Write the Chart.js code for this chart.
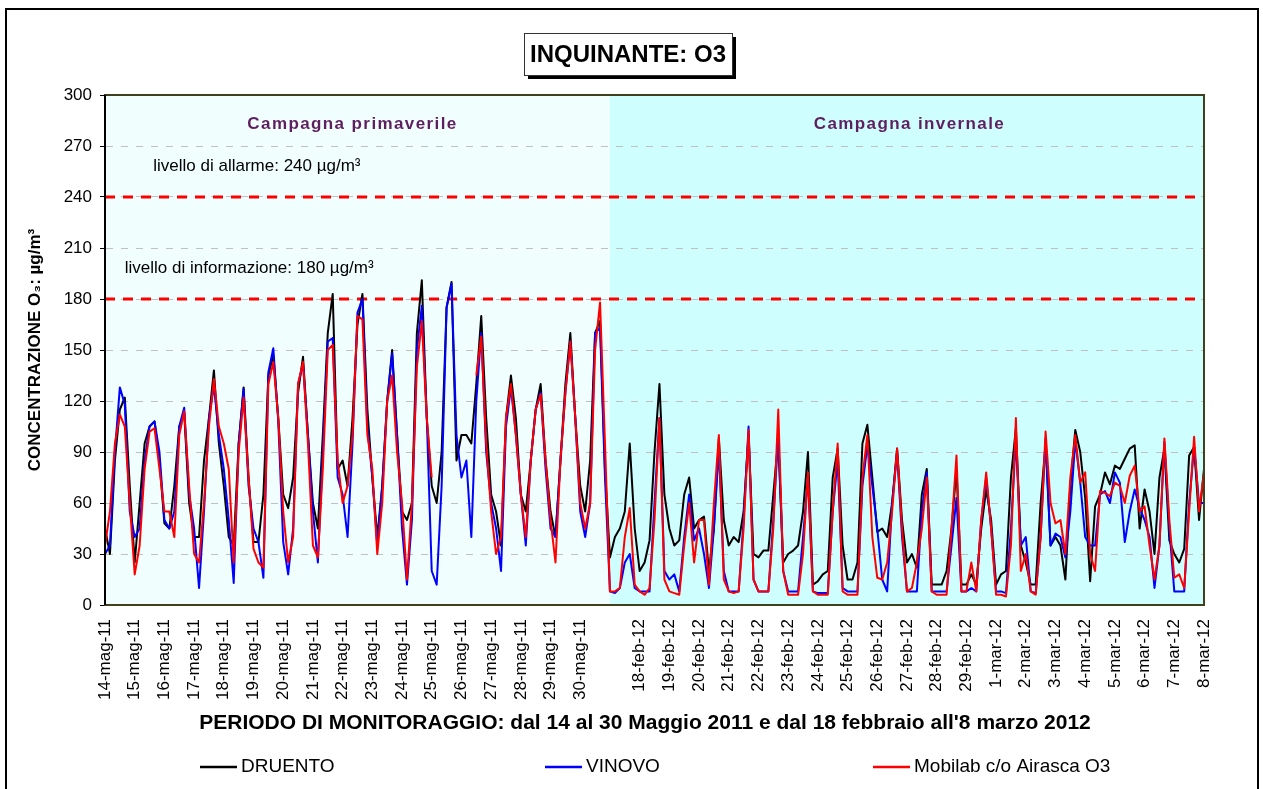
<!DOCTYPE html>
<html>
<head>
<meta charset="utf-8">
<title>INQUINANTE: O3</title>
<script src="https://cdn.jsdelivr.net/npm/chart.js@4.4.0/dist/chart.umd.min.js"></script>
<style>
  html, body { margin: 0; padding: 0; background: #ffffff; }
  #wrap { width: 1263px; height: 789px; }
</style>
</head>
<body>
<div id="wrap"><canvas id="o3Chart" width="1263" height="789"></canvas></div>
<script>
//  Hourly series read every 4 h (00, 04, 08, 12, 16, 20) of each day.
//  Spring campaign: 14..30 May 2011 (17 days), winter campaign: 17 Feb..8 Mar 2012.
const STEP_H         = 4;
const WINTER_START_H = 408;   // 17-feb-12 00:00 follows straight after 30-mag-11
const AXIS_END_H     = 888;   // 8-mar-12 00:00

const mayLabels = [
  '14-mag-11', '15-mag-11', '16-mag-11', '17-mag-11', '18-mag-11', '19-mag-11',
  '20-mag-11', '21-mag-11', '22-mag-11', '23-mag-11', '24-mag-11', '25-mag-11',
  '26-mag-11', '27-mag-11', '28-mag-11', '29-mag-11', '30-mag-11'
];
const winterLabels = [
  '18-feb-12', '19-feb-12', '20-feb-12', '21-feb-12', '22-feb-12', '23-feb-12',
  '24-feb-12', '25-feb-12', '26-feb-12', '27-feb-12', '28-feb-12', '29-feb-12',
  '1-mar-12', '2-mar-12', '3-mar-12', '4-mar-12', '5-mar-12', '6-mar-12',
  '7-mar-12', '8-mar-12'
];

const druento = [
  45, 30, 85, 115, 122, 70,     // 14 mag
  25, 60, 95, 105, 108, 85,
  48, 45, 70, 105, 113, 60,
  40, 40, 85, 110, 138, 95,
  70, 40, 35, 95, 128, 75,
  37, 37, 65, 135, 147, 110,
  65, 57, 75, 125, 146, 100,    // 20 mag
  60, 45, 100, 160, 183, 80,
  85, 70, 110, 165, 183, 115,
  75, 40, 70, 120, 150, 100,
  55, 50, 60, 160, 191, 110,
  70, 60, 90, 175, 190, 85,
  100, 100, 95, 130, 170, 110,  // 26 mag
  65, 55, 35, 110, 135, 110,
  65, 55, 85, 115, 130, 85,
  55, 40, 85, 130, 160, 110,
  70, 55, 85, 160, 167, 80,     // 30 mag
  28, 40, 45, 55, 95, 45,       // 17 feb
  20, 25, 38, 90, 130, 65,
  45, 35, 38, 65, 75, 45,
  50, 52, 20, 45, 98, 50,
  35, 40, 37, 55, 100, 30,
  28, 32, 32, 65, 98, 25,
  30, 32, 35, 55, 90, 12,
  14, 18, 20, 75, 92, 35,
  15, 15, 25, 95, 106, 75,      // 25 feb
  43, 45, 40, 60, 92, 50,
  25, 30, 22, 65, 80, 12,
  12, 12, 20, 45, 80, 12,
  12, 18, 12, 45, 68, 50,
  12, 18, 20, 75, 104, 35,      // 1 mar
  25, 12, 12, 60, 95, 35,
  40, 35, 15, 70, 103, 90,
  63, 14, 58, 65, 78, 71,
  82, 80, 86, 92, 94, 45,
  68, 55, 30, 75, 92, 38,
  30, 25, 33, 88, 93, 50,       // 7 mar
  80
];

const vinovo = [
  30, 35, 90, 128, 118, 55,     // 14 mag
  40, 45, 85, 105, 108, 90,
  50, 45, 55, 105, 116, 65,
  45, 10, 55, 110, 129, 100,
  80, 50, 13, 95, 127, 70,
  45, 37, 16, 137, 151, 108,
  37, 18, 45, 130, 142, 100,    // 20 mag
  55, 25, 90, 155, 157, 75,
  65, 40, 95, 172, 180, 105,
  75, 35, 70, 120, 148, 100,
  45, 12, 50, 150, 176, 110,
  20, 12, 70, 175, 189, 100,
  75, 85, 40, 120, 160, 90,     // 26 mag
  60, 45, 20, 105, 128, 100,
  65, 35, 85, 115, 125, 80,
  45, 40, 85, 125, 155, 110,
  55, 40, 60, 160, 163, 75,     // 30 mag
  8, 7, 10, 25, 30, 10,         // 17 feb
  8, 8, 8, 60, 110, 20,
  15, 18, 8, 40, 65, 38,
  45, 30, 10, 45, 92, 20,
  8, 8, 8, 50, 105, 15,
  8, 8, 8, 50, 100, 20,
  8, 8, 8, 40, 75, 8,
  7, 7, 7, 55, 85, 10,
  8, 8, 8, 70, 94, 70,          // 25 feb
  45, 15, 8, 60, 90, 40,
  8, 8, 8, 55, 78, 8,
  8, 8, 8, 35, 63, 8,
  8, 10, 8, 50, 75, 45,
  8, 8, 7, 45, 98, 35,          // 1 mar
  40, 8, 7, 40, 98, 35,
  42, 40, 28, 55, 97, 72,
  40, 35, 35, 65, 67, 60,
  78, 72, 37, 55, 68, 57,
  50, 40, 10, 35, 96, 45,
  8, 8, 8, 60, 93, 60,          // 7 mar
  60
];

const mobilab = [
  35, 55, 95, 112, 105, 60,     // 14 mag
  18, 35, 80, 102, 104, 80,
  55, 55, 40, 100, 114, 70,
  30, 25, 60, 105, 133, 105,
  95, 80, 25, 90, 122, 75,
  33, 25, 22, 130, 143, 110,
  55, 25, 40, 130, 143, 95,     // 20 mag
  35, 28, 80, 150, 153, 85,
  60, 70, 100, 170, 168, 100,
  80, 30, 60, 120, 135, 90,
  60, 15, 60, 140, 167, 110,
  75, null, null, null, null, null,
  null, null, null, 135, 158, 95, // 26 mag
  55, 30, 40, 110, 130, 100,
  65, 40, 85, 115, 124, 85,
  50, 25, 85, 125, 155, 110,
  60, 45, 60, 150, 178, 95,     // 30 mag
  8, 8, 10, 40, 57, 12,         // 17 feb
  8, 6, 10, 50, 110, 15,
  8, 7, 6, 35, 60, 25,
  50, 50, 12, 60, 100, 15,
  8, 7, 8, 45, 103, 15,
  8, 8, 8, 45, 115, 20,
  6, 6, 6, 30, 78, 8,
  6, 6, 6, 55, 95, 8,
  6, 6, 6, 75, 100, 40,         // 25 feb
  16, 15, 25, 55, 92, 45,
  8, 10, 25, 45, 75, 8,
  6, 6, 6, 45, 88, 8,
  8, 25, 8, 50, 78, 45,
  6, 6, 5, 35, 110, 20,         // 1 mar
  30, 8, 6, 40, 102, 60,
  48, 50, 30, 75, 100, 72,
  78, 30, 20, 67, 66, 64,
  72, 70, 60, 76, 82, 55,
  58, 35, 15, 35, 98, 50,
  16, 18, 10, 55, 99, 55,       // 7 mar
  78
];

const infoLevel  = 180;
const alarmLevel = 240;

//  Tick positions (hour index) -> label
const tickLabelAt = {};
mayLabels.forEach((l, i) => { tickLabelAt[i * 24] = l; });
winterLabels.forEach((l, i) => { tickLabelAt[WINTER_START_H + 24 + i * 24] = l; });
const tickHours = Object.keys(tickLabelAt).map(Number).sort((a, b) => a - b);

const toPoints  = vals => vals.map((v, i) => ({ x: i * STEP_H, y: v }));
const levelLine = v => [{ x: 0, y: v }, { x: AXIS_END_H, y: v }];

const FONT = "'Liberation Sans', Arial, sans-serif";
const X_TITLE = "PERIODO DI MONITORAGGIO: dal 14 al 30 Maggio 2011 e dal 18 febbraio all'8 marzo 2012";

//  Background bands
const bgPlugin = {
  id: 'bgBands',
  beforeDraw(chart) {
    const { ctx, chartArea: a, scales: { x } } = chart;
    const split = x.getPixelForValue(WINTER_START_H);
    ctx.save();
    ctx.fillStyle = '#ffffff';
    ctx.fillRect(0, 0, chart.width, chart.height);
    ctx.fillStyle = '#f0fefe';
    ctx.fillRect(a.left, a.top, split - a.left, a.bottom - a.top);
    ctx.fillStyle = '#cffefe';
    ctx.fillRect(split, a.top, a.right - split, a.bottom - a.top);
    ctx.restore();
  }
};

//  Frame, notes, title box, axis title and legend
const overlayPlugin = {
  id: 'overlay',
  afterDatasetsDraw(chart) {
    const { ctx, chartArea: a } = chart;
    ctx.save();
    ctx.strokeStyle = '#40401f';
    ctx.lineWidth = 2;
    ctx.strokeRect(a.left, a.top, a.right - a.left, a.bottom - a.top);
    ctx.strokeStyle = '#000';
    ctx.beginPath();
    ctx.moveTo(a.left, a.top);
    ctx.lineTo(a.left, a.bottom);
    ctx.stroke();
    ctx.restore();
  },
  afterDraw(chart) {
    const { ctx, scales: { x, y } } = chart;
    ctx.save();

    // outer frame
    ctx.strokeStyle = '#000';
    ctx.lineWidth = 2;
    ctx.strokeRect(6, 9, 1252, 790);

    // campaign names
    ctx.fillStyle = '#5f1f5f';
    ctx.font = 'bold 17px ' + FONT;
    ctx.letterSpacing = '1.4px';
    ctx.textAlign = 'center';
    ctx.textBaseline = 'middle';
    ctx.fillText('Campagna primaverile', x.getPixelForValue(200), y.getPixelForValue(283));
    ctx.fillText('Campagna invernale', x.getPixelForValue(650), y.getPixelForValue(283));

    // threshold notes
    ctx.letterSpacing = '0px';
    ctx.fillStyle = '#000';
    ctx.font = '17px ' + FONT;
    ctx.textAlign = 'left';
    ctx.fillText('livello di allarme: 240 µg/m³', x.getPixelForValue(39), y.getPixelForValue(alarmLevel + 18));
    ctx.fillText('livello di informazione: 180 µg/m³', x.getPixelForValue(16), y.getPixelForValue(infoLevel + 18));

    // title box with shadow
    const bx = 524, by = 33, bw = 208, bh = 42;
    ctx.fillStyle = '#000';
    ctx.fillRect(bx + 4, by + 4, bw, bh);
    ctx.fillStyle = '#fff';
    ctx.fillRect(bx, by, bw, bh);
    ctx.strokeStyle = '#333';
    ctx.lineWidth = 1;
    ctx.strokeRect(bx + 0.5, by + 0.5, bw, bh);
    ctx.fillStyle = '#000';
    ctx.font = 'bold 24px ' + FONT;
    ctx.textAlign = 'center';
    ctx.fillText('INQUINANTE: O3', bx + bw / 2, by + bh / 2 + 1);

    // x axis title (sits a little left of the plot centre)
    ctx.font = 'bold 21px ' + FONT;
    ctx.fillText(X_TITLE, 645, 723);

    // legend
    const legendX = [200, 545, 873];
    const ly = 767;
    ctx.font = '19px ' + FONT;
    ctx.textAlign = 'left';
    chart.data.datasets.filter(d => d.inLegend).forEach((d, i) => {
      ctx.strokeStyle = d.borderColor;
      ctx.lineWidth = 2.5;
      ctx.beginPath();
      ctx.moveTo(legendX[i], ly);
      ctx.lineTo(legendX[i] + 37, ly);
      ctx.stroke();
      ctx.fillStyle = '#000';
      ctx.fillText(d.label, legendX[i] + 41, ly);
    });
    ctx.restore();
  }
};

new Chart(document.getElementById('o3Chart'), {
  type: 'line',
  data: {
    datasets: [
      { label: 'DRUENTO', data: toPoints(druento), borderColor: '#000000', borderWidth: 2, order: 2, inLegend: true },
      { label: 'VINOVO', data: toPoints(vinovo), borderColor: '#0000ff', borderWidth: 2, order: 1, inLegend: true },
      { label: 'Mobilab c/o Airasca O3', data: toPoints(mobilab), borderColor: '#ff0000', borderWidth: 2, order: 0, inLegend: true },
      { label: 'livello di informazione', data: levelLine(infoLevel), borderColor: '#ff0000', borderWidth: 3, borderDash: [10, 8], order: 5 },
      { label: 'livello di allarme', data: levelLine(alarmLevel), borderColor: '#ff0000', borderWidth: 3, borderDash: [10, 8], order: 5 },
    ]
  },
  options: {
    responsive: false,
    animation: false,
    spanGaps: false,
    elements: { point: { radius: 0 }, line: { tension: 0, borderJoinStyle: 'round' } },
    layout: { padding: { top: 95, right: 59, bottom: 0, left: 0 } },
    plugins: { legend: { display: false }, tooltip: { enabled: false } },
    scales: {
      x: {
        type: 'linear',
        min: 0,
        max: AXIS_END_H,
        afterBuildTicks: s => { s.ticks = tickHours.map(v => ({ value: v })); },
        afterFit: s => { s.height = 184; },
        ticks: {
          autoSkip: false,
          minRotation: 90,
          maxRotation: 90,
          padding: 14,
          color: '#000',
          font: { family: FONT, size: 17 },
          callback: v => tickLabelAt[v] || ''
        },
        grid: { display: false, drawTicks: false },
        border: { display: false }
      },
      y: {
        min: 0,
        max: 300,
        afterFit: s => { s.width = 105; },
        ticks: { stepSize: 30, padding: 8, color: '#000', font: { family: FONT, size: 17 } },
        grid: { color: '#c0c0c0', lineWidth: 1, tickColor: '#000', tickLength: 5, tickBorderDash: [] },
        border: { display: true, color: '#000', width: 1, dash: [7, 8] },
        title: {
          display: true,
          text: 'CONCENTRAZIONE O₃: µg/m³',
          color: '#000',
          font: { family: FONT, size: 17, weight: 'bold' },
          padding: { top: 25, bottom: 0 }
        }
      }
    }
  },
  plugins: [bgPlugin, overlayPlugin]
});
</script>
</body>
</html>
